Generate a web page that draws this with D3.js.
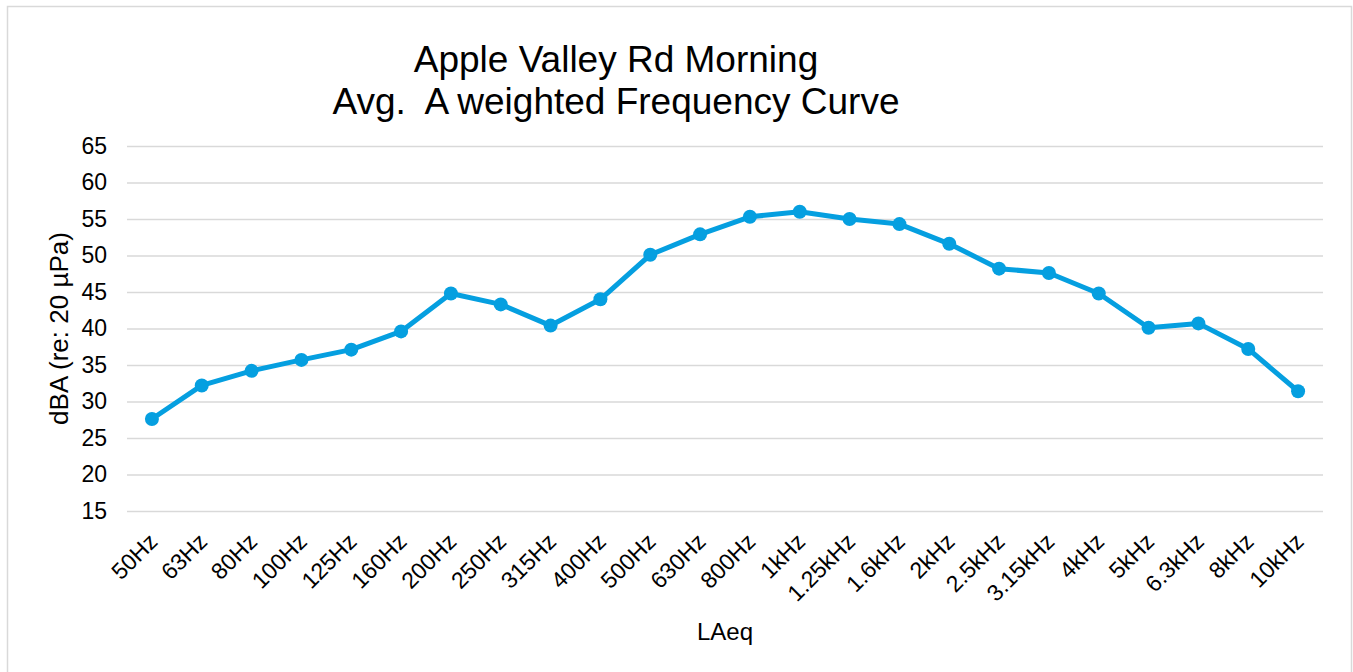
<!DOCTYPE html>
<html>
<head>
<meta charset="utf-8">
<script src="https://cdn.jsdelivr.net/npm/d3@7"></script>
<style>
  body { margin: 0; background: #fff; }
  text { font-family: "Liberation Sans", Arial, sans-serif; fill: #000; }
</style>
</head>
<body>
<div id="chart"></div>
<script>
// band centre frequencies (1/3 octave)
var categories = ["50Hz", "63Hz", "80Hz", "100Hz", "125Hz", "160Hz", "200Hz", "250Hz", "315Hz", "400Hz",
  "500Hz", "630Hz", "800Hz", "1kHz", "1.25kHz", "1.6kHz", "2kHz", "2.5kHz", "3.15kHz", "4kHz",
  "5kHz", "6.3kHz", "8kHz", "10kHz"];
// LAeq values, dBA
var laeq = [27.6, 32.2, 34.2, 35.7, 37.1, 39.6, 44.8, 43.3, 40.4, 44.0,
  50.1, 52.9, 55.3, 56.0, 55.0, 54.3, 51.6, 48.2, 47.6, 44.8,
  40.1, 40.7, 37.2, 31.4];
var yTicks = [15, 20, 25, 30, 35, 40, 45, 50, 55, 60, 65];
var titleLines = ["Apple Valley Rd Morning", "Avg.  A weighted Frequency Curve"];

var width = 1353, height = 672;
var plotLeft = 127, plotRight = 1323, plotTop = 146, plotBottom = 511;

var svg = d3.select("#chart").append("svg").attr("width", width).attr("height", height);

// chart border
svg.append("rect").attr("x", 7.5).attr("y", 6.5).attr("width", 1344).attr("height", 670)
  .attr("fill", "#fff").attr("stroke", "#d9d9d9").attr("stroke-width", 1.5);

var x = d3.scaleBand().domain(categories).range([plotLeft, plotRight]);
var y = d3.scaleLinear().domain([15, 65]).range([plotBottom, plotTop]);

// gridlines
svg.append("g")
  .attr("transform", "translate(" + plotLeft + ",0)")
  .call(d3.axisLeft(y).tickValues(yTicks).tickSize(-(plotRight - plotLeft)).tickFormat(""))
  .call(function (g) { g.select(".domain").remove(); })
  .call(function (g) { g.selectAll("line").attr("stroke", "#d9d9d9").attr("stroke-width", 1.5); });

// y tick labels
svg.append("g")
  .attr("transform", "translate(" + plotLeft + ",0)")
  .call(d3.axisLeft(y).tickValues(yTicks).tickSize(0).tickPadding(20))
  .call(function (g) { g.select(".domain").remove(); })
  .call(function (g) { g.selectAll("text").attr("font-size", "23px").attr("font-family", "Liberation Sans, Arial, sans-serif").attr("fill", "#000"); });

// x tick labels
var xg = svg.append("g")
  .attr("transform", "translate(0," + plotBottom + ")")
  .call(d3.axisBottom(x).tickSize(0).tickPadding(0));
xg.select(".domain").remove();
xg.selectAll("text")
  .attr("font-size", "23px")
  .attr("font-family", "Liberation Sans, Arial, sans-serif")
  .attr("fill", "#000")
  .attr("text-anchor", "end")
  .attr("dy", null)
  .attr("y", null)
  .attr("transform", "translate(7,32) rotate(-45)");

// line + markers
var line = d3.line()
  .x(function (d, i) { return x(categories[i]) + x.bandwidth() / 2; })
  .y(function (d) { return y(d); });

svg.append("path").datum(laeq)
  .attr("fill", "none").attr("stroke", "#059fe0").attr("stroke-width", 5)
  .attr("stroke-linejoin", "round")
  .attr("d", line);

svg.append("g").selectAll("circle").data(laeq).enter().append("circle")
  .attr("cx", function (d, i) { return x(categories[i]) + x.bandwidth() / 2; })
  .attr("cy", function (d) { return y(d); })
  .attr("r", 7)
  .attr("fill", "#059fe0");

// title
svg.append("text").attr("x", 616).attr("y", 72).attr("text-anchor", "middle")
  .attr("font-size", "37px").text(titleLines[0]);
svg.append("text").attr("x", 616).attr("y", 114).attr("text-anchor", "middle")
  .attr("font-size", "37px").attr("style", "white-space:pre").text(titleLines[1]);

// axis titles
svg.append("text").attr("transform", "translate(68," + (plotTop + plotBottom) / 2 + ") rotate(-90)")
  .attr("text-anchor", "middle").attr("font-size", "26px").text("dBA (re: 20 µPa)");
svg.append("text").attr("x", (plotLeft + plotRight) / 2).attr("y", 640).attr("text-anchor", "middle")
  .attr("font-size", "24px").text("LAeq");
</script>
</body>
</html>
